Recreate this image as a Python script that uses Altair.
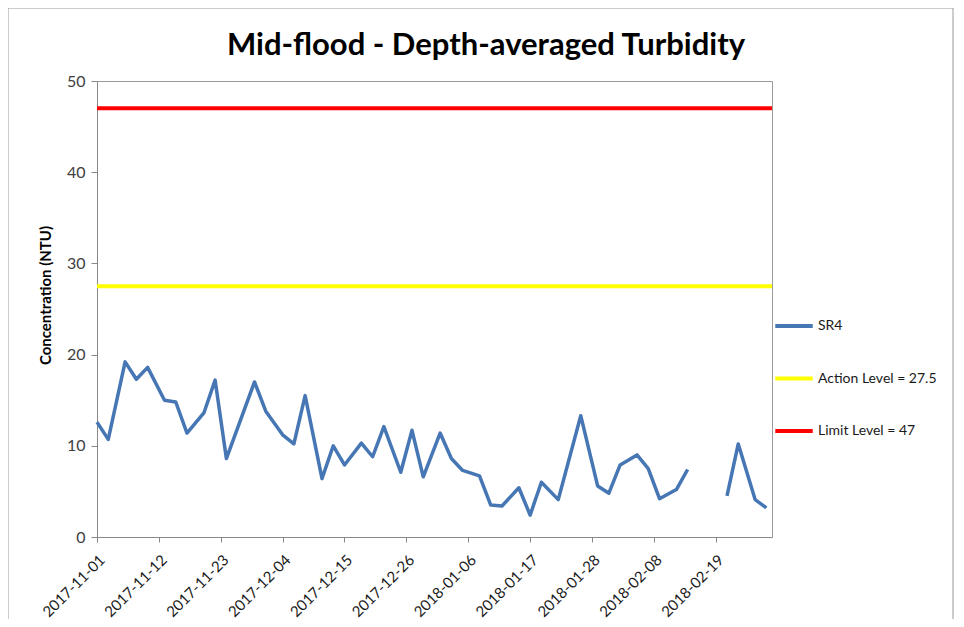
import altair as alt
import pandas as pd

# ---- data ----
dates = [
    "2017-11-01", "2017-11-03", "2017-11-06", "2017-11-08", "2017-11-10",
    "2017-11-13", "2017-11-15", "2017-11-17", "2017-11-20", "2017-11-22",
    "2017-11-24", "2017-11-29", "2017-12-01", "2017-12-04", "2017-12-06",
    "2017-12-08", "2017-12-11", "2017-12-13", "2017-12-15", "2017-12-18",
    "2017-12-20", "2017-12-22", "2017-12-25", "2017-12-27", "2017-12-29",
    "2018-01-01", "2018-01-03", "2018-01-05", "2018-01-08", "2018-01-10",
    "2018-01-12", "2018-01-15", "2018-01-17", "2018-01-19", "2018-01-22",
    "2018-01-26", "2018-01-29", "2018-01-31", "2018-02-02", "2018-02-05",
    "2018-02-07", "2018-02-09", "2018-02-12", "2018-02-14", "2018-02-16",
    "2018-02-19", "2018-02-21", "2018-02-23", "2018-02-26", "2018-02-28",
]
sr4 = [
    12.6, 10.7, 19.2, 17.3, 18.6,
    15.0, 14.8, 11.4, 13.6, 17.2,
    8.6, 17.0, 13.8, 11.2, 10.2,
    15.5, 6.4, 10.0, 7.9, 10.3,
    8.8, 12.1, 7.1, 11.7, 6.6,
    11.4, 8.6, 7.3, 6.7, 3.5,
    3.4, 5.4, 2.4, 6.0, 4.1,
    13.3, 5.6, 4.8, 7.9, 9.0,
    7.5, 4.2, 5.2, 7.4, None,
    None, 4.5, 10.2, 4.1, 3.2,
]
level_names = ["Action Level = 27.5", "Limit Level = 47"]
level_values = [27.5, 47]
series_names = ["SR4"] + level_names
series_colors = ["#4677B4", "#FFFF00", "#FF0000"]
tick_dates = ["2017-11-01", "2017-11-12", "2017-11-23", "2017-12-04", "2017-12-15",
              "2017-12-26", "2018-01-06", "2018-01-17", "2018-01-28", "2018-02-08",
              "2018-02-19"]
x_domain = ["2017-11-01", "2018-03-01"]
y_ticks = [0, 10, 20, 30, 40, 50]
title_text = "Mid-flood - Depth-averaged Turbidity"

FONT = "Lato"


def dt(s):
    y, m, d = (int(p) for p in s.split("-"))
    return alt.DateTime(year=y, month=m, date=d, utc=True)


df = pd.DataFrame({"date": dates, "value": sr4, "series": "SR4"})
levels = pd.DataFrame({"value": level_values, "series": level_names})
one = pd.DataFrame({"t": [title_text]})

color = alt.Color(
    "series:N",
    scale=alt.Scale(domain=series_names, range=series_colors),
    legend=alt.Legend(
        title=None, orient="none", legendX=676, legendY=224,
        symbolType="stroke", symbolStrokeWidth=4, symbolSize=1400,
        labelFont=FONT, labelFontSize=14, labelColor="#1a1a1a",
        rowPadding=23.5, labelOffset=3, padding=0,
    ),
)

x_enc = alt.X(
    "date:T",
    scale=alt.Scale(type="utc", domain=[dt(d) for d in x_domain], nice=False),
    axis=alt.Axis(
        title=None, values=[dt(d) for d in tick_dates], format="%Y-%m-%d",
        labelAngle=-45, labelAlign="right", labelBaseline="top",
        labelFont=FONT, labelFontSize=15, labelColor="#1a1a1a",
        tickSize=5, tickColor="#888888", domainColor="#888888", grid=False,
        labelPadding=10, labelOverlap=False,
    ),
)
y_scale = alt.Scale(domain=[0, 50], nice=False)
y_axis = alt.Axis(
    title="Concentration (NTU)", values=y_ticks,
    titleFont=FONT, titleFontSize=15, titleFontWeight="bold", titleColor="#000000",
    titlePadding=13, titleY=214,
    labelFont=FONT, labelFontSize=16, labelColor="#404040", labelPadding=6,
    tickSize=6, tickColor="#888888", domainColor="#888888", grid=False,
)

frame = alt.Chart(one).mark_rect(
    fill=None, stroke="#9a9a9a", strokeWidth=1, clip=False
).encode(
    x=alt.value(-89), x2=alt.value(856), y=alt.value(-73), y2=alt.value(560)
)

title = alt.Chart(one).mark_text(
    font=FONT, fontSize=31, fontWeight="bold", color="#000000",
    align="center", baseline="alphabetic", clip=False,
).encode(
    text="t:N", x=alt.value(389), y=alt.value(-26)
)

line = alt.Chart(df).mark_line(strokeWidth=3.5, strokeJoin="round").encode(
    x=x_enc,
    y=alt.Y("value:Q", scale=y_scale, axis=y_axis),
    color=color,
)

rules = alt.Chart(levels).mark_rule(strokeWidth=4).encode(
    y=alt.Y("value:Q", scale=y_scale),
    color=color,
)

chart = alt.layer(frame, title, rules, line).properties(
    width=675,
    height=456,
    autosize=alt.AutoSizeParams(type="none"),
    padding={"left": 89, "top": 73, "right": 184, "bottom": 82},
).configure_view(stroke="#9a9a9a", strokeWidth=1)

chart.save("out.html", embed_options={"renderer": "svg", "actions": False})
